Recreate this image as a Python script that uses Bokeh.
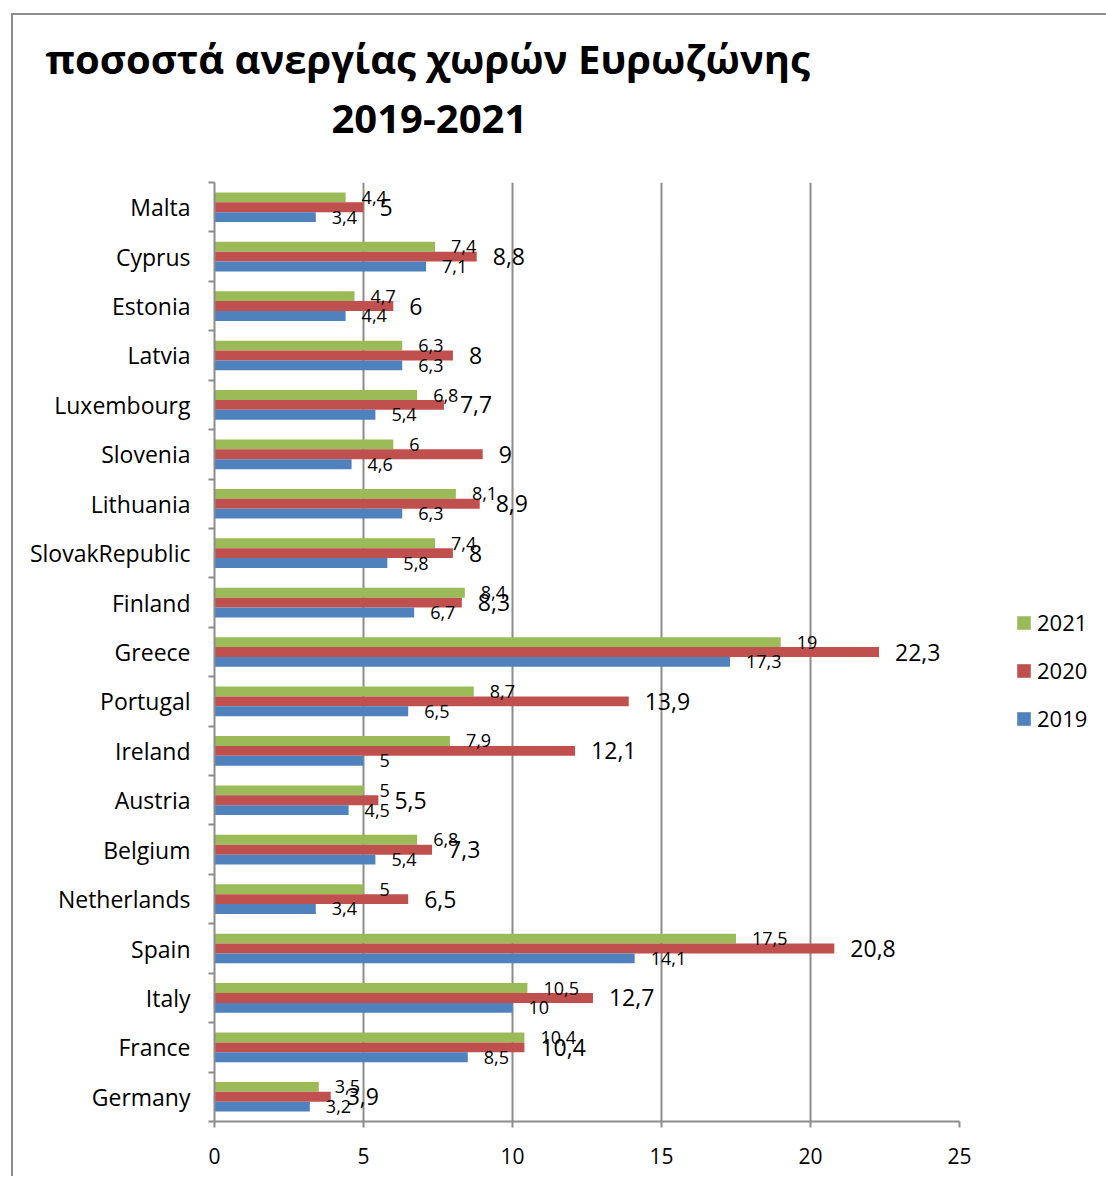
from bokeh.plotting import figure
from bokeh.models import Range1d, FixedTicker, ColumnDataSource, Title, Legend, LegendItem
from bokeh.transform import dodge
from bokeh.core.properties import value
from bokeh.embed import file_html
from bokeh.resources import INLINE

# ---------------- data ----------------
countries = ["Germany", "France", "Italy", "Spain", "Netherlands", "Belgium", "Austria",
             "Ireland", "Portugal", "Greece", "Finland", "SlovakRepublic", "Lithuania",
             "Slovenia", "Luxembourg", "Latvia", "Estonia", "Cyprus", "Malta"]
rate_2019 = [3.2, 8.5, 10, 14.1, 3.4, 5.4, 4.5, 5, 6.5, 17.3, 6.7, 5.8, 6.3, 4.6, 5.4, 6.3, 4.4, 7.1, 3.4]
rate_2020 = [3.9, 10.4, 12.7, 20.8, 6.5, 7.3, 5.5, 12.1, 13.9, 22.3, 8.3, 8, 8.9, 9, 7.7, 8, 6, 8.8, 5]
rate_2021 = [3.5, 10.4, 10.5, 17.5, 5, 6.8, 5, 7.9, 8.7, 19, 8.4, 7.4, 8.1, 6, 6.8, 6.3, 4.7, 7.4, 4.4]
years = ["2019", "2020", "2021"]
x_ticks = [0, 5, 10, 15, 20, 25]
title_lines = ["ποσοστά ανεργίας χωρών Ευρωζώνης", "2019-2021"]

# ---------------- styling ----------------
FONT = "Open Sans"
C2019, C2020, C2021 = "#4F81BD", "#C0504D", "#9BBB59"
GRAY = "#8c8c8c"

def fmt(v):
    return ("%g" % v).replace(".", ",")

pos = list(range(len(countries)))
src = ColumnDataSource(dict(
    pos=pos,
    r2019=rate_2019, r2020=rate_2020, r2021=rate_2021,
    l2019=[fmt(v) for v in rate_2019],
    l2020=[fmt(v) for v in rate_2020],
    l2021=[fmt(v) for v in rate_2021],
))

p = figure(frame_width=745, frame_height=939,
           x_range=Range1d(0, 25), y_range=Range1d(-0.5, len(countries) - 0.5),
           output_backend="svg", toolbar_location=None,
           min_border_left=201, min_border_top=167, min_border_right=146, min_border_bottom=55)
p.styles = {"border-left": "2px solid " + GRAY, "border-top": "2px solid " + GRAY,
            "margin-top": "13px", "margin-left": "11px"}
p.outline_line_color = None
p.background_fill_color = "white"
p.border_fill_color = "white"

BAR_H = 0.2
r21 = p.hbar(y=dodge("pos", BAR_H, range=p.y_range), left=0, right="r2021", height=BAR_H,
             source=src, fill_color=C2021, line_color=None)
r20 = p.hbar(y="pos", left=0, right="r2020", height=BAR_H,
             source=src, fill_color=C2020, line_color=None)
r19 = p.hbar(y=dodge("pos", -BAR_H, range=p.y_range), left=0, right="r2019", height=BAR_H,
             source=src, fill_color=C2019, line_color=None)

p.text(x="r2021", y=dodge("pos", BAR_H, range=p.y_range), text="l2021", source=src,
       x_offset=16, text_baseline="middle", text_align="left",
       text_font=value(FONT), text_font_size="18px", text_color="black")
p.text(x="r2020", y="pos", text="l2020", source=src,
       x_offset=16, text_baseline="middle", text_align="left",
       text_font=value(FONT), text_font_size="23px", text_color="black")
p.text(x="r2019", y=dodge("pos", -BAR_H, range=p.y_range), text="l2019", source=src,
       x_offset=16, text_baseline="middle", text_align="left",
       text_font=value(FONT), text_font_size="18px", text_color="black")

# x axis
p.xaxis.ticker = FixedTicker(ticks=x_ticks)
p.xaxis.axis_line_color = GRAY
p.xaxis.axis_line_width = 2
p.xaxis.major_tick_line_color = GRAY
p.xaxis.major_tick_line_width = 2
p.xaxis.major_tick_out = 6
p.xaxis.major_tick_in = 0
p.xaxis.minor_tick_line_color = None
p.xaxis.major_label_text_font = FONT
p.xaxis.major_label_text_font_size = "21px"
p.xaxis.major_label_text_color = "black"
p.xaxis.major_label_standoff = 20

# y axis
p.yaxis.ticker = FixedTicker(ticks=pos, minor_ticks=[i - 0.5 for i in range(len(countries) + 1)])
p.yaxis.major_label_overrides = {i: c for i, c in zip(pos, countries)}
p.yaxis.axis_line_color = GRAY
p.yaxis.axis_line_width = 2
p.yaxis.major_tick_line_color = None
p.yaxis.major_tick_out = 0
p.yaxis.major_tick_in = 0
p.yaxis.minor_tick_line_color = GRAY
p.yaxis.minor_tick_line_width = 2
p.yaxis.minor_tick_out = 6
p.yaxis.minor_tick_in = 0
p.yaxis.major_label_text_font = FONT
p.yaxis.major_label_text_font_size = "23px"
p.yaxis.major_label_text_color = "black"
p.yaxis.major_label_standoff = 18

p.xgrid.ticker = FixedTicker(ticks=x_ticks)
p.xgrid.grid_line_color = GRAY
p.xgrid.grid_line_width = 2
p.ygrid.grid_line_color = None

# title: two centred lines (second line added first so it sits nearest the plot)
p.add_layout(Title(text=title_lines[1], align="left", offset=117, standoff=100,
                   text_font=FONT, text_font_size="40px", text_font_style="bold",
                   text_color="black"), "above")
p.add_layout(Title(text=title_lines[0], align="left", offset=-169, standoff=-66,
                   text_font=FONT, text_font_size="40px", text_font_style="bold",
                   text_color="black"), "above")

legend = Legend(items=[LegendItem(label=years[2], renderers=[r21]),
                       LegendItem(label=years[1], renderers=[r20]),
                       LegendItem(label=years[0], renderers=[r19])],
                location=(56, 388), orientation="vertical",
                padding=0, margin=0, spacing=18, border_line_color=None,
                background_fill_alpha=0, glyph_width=17, glyph_height=17,
                label_height=30, label_standoff=5,
                label_text_font=FONT, label_text_font_size="22px", label_text_color="black")
p.add_layout(legend, "right")

open("out.html", "w").write(file_html(p, INLINE))
